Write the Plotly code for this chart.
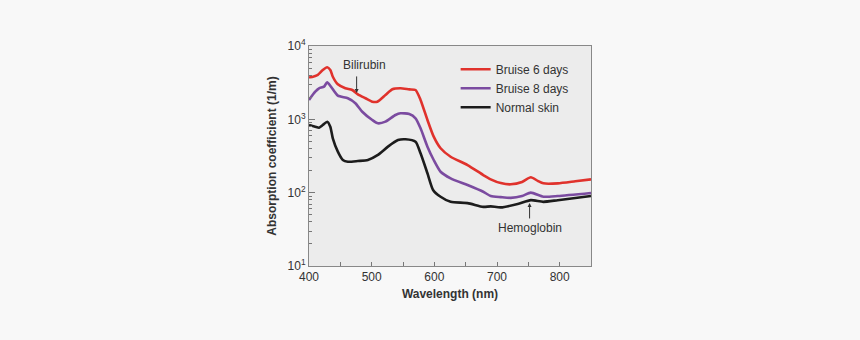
import plotly.graph_objects as go

# Bruise 6 days
wl_6 = [400, 402, 410, 414, 422, 429, 434, 438, 446, 458, 469, 478, 490, 501, 509, 522, 533,
        546, 560, 570, 578, 589, 599, 610, 626, 653, 678, 690, 706, 722, 740, 754, 765, 774, 797, 825, 850]
abs_6 = [3760, 3740, 3900, 4030, 4710, 5130, 4710, 3810, 3000, 2650, 2510, 2190, 1940, 1740, 1740,
         2150, 2570, 2650, 2560, 2510, 1840, 980, 580, 403, 309, 238, 174, 152, 135, 130, 140, 162,
         145, 134, 134, 143, 152]

# Bruise 8 days
wl_8 = [400, 410, 416, 424, 429, 435, 446, 462, 474, 485, 501, 510, 522, 538, 546, 560, 570, 578,
        589, 599, 610, 626, 653, 678, 690, 706, 722, 740, 754, 774, 797, 850]
abs_8 = [1840, 2380, 2650, 2790, 3200, 2790, 2100, 1940, 1660, 1270, 979, 883, 930, 1146, 1208,
         1180, 1033, 755, 424, 279, 193, 157, 127, 103, 90, 87, 85, 90, 100, 88, 90, 99]

# Normal skin
wl_n = [400, 410, 416, 422, 429, 434, 438, 446, 454, 462, 478, 494, 510, 526, 542, 554, 570, 578,
        589, 598, 610, 626, 653, 678, 690, 706, 733, 754, 774, 797, 850]
abs_n = [837, 794, 769, 837, 929, 794, 551, 362, 279, 264, 270, 279, 327, 424, 522, 535, 495, 344,
         184, 109, 88, 75, 72, 64, 65, 63, 70, 79, 75, 79, 90]

series_names = ["Bruise 6 days", "Bruise 8 days", "Normal skin"]
series_colors = ["#e0322c", "#7b4ba0", "#1c1c1c"]

y_tickvals = [10, 100, 1000, 10000]
y_ticktext = ["10<sup>1</sup>", "10<sup>2</sup>", "10<sup>3</sup>", "10<sup>4</sup>"]
y_minor = [v * m for v in [10, 100, 1000] for m in range(2, 10)]

FONT = "Liberation Sans, Arial, sans-serif"

fig = go.Figure()
for wl, ab, name, col in zip([wl_6, wl_8, wl_n], [abs_6, abs_8, abs_n], series_names, series_colors):
    fig.add_trace(go.Scatter(x=wl, y=ab, mode="lines", name=name,
                             line=dict(color=col, width=2.6, shape="spline", smoothing=0.6)))

fig.update_layout(
    width=860, height=340,
    margin=dict(l=309, r=269, t=46, b=74),
    paper_bgcolor="#f8f8f8", plot_bgcolor="#ececec",
    font=dict(family=FONT, size=12, color="#333"),
    legend=dict(x=0.52, y=0.96, xanchor="left", yanchor="top", bgcolor="rgba(0,0,0,0)",
                font=dict(size=12, color="#333"), tracegroupgap=0, itemwidth=30),
    showlegend=True,
)

fig.update_xaxes(range=[400, 850], dtick=100, tick0=400, ticks="inside", ticklen=4,
                 tickcolor="#777", showgrid=False, zeroline=False,
                 showline=True, linecolor="#888", linewidth=1, mirror=True,
                 minor=dict(dtick=50, tick0=400, ticks="inside", ticklen=4, tickcolor="#777", showgrid=False),
                 tickfont=dict(size=12, color="#333"),
                 title=dict(text="<b>Wavelength (nm)</b>", font=dict(size=12, color="#333"), standoff=6))

fig.update_yaxes(type="log", range=[1, 4], tickmode="array", tickvals=y_tickvals, ticktext=y_ticktext,
                 ticks="inside", ticklen=6, tickcolor="#777", showgrid=False, zeroline=False,
                 showline=True, linecolor="#888", linewidth=1, mirror=True,
                 minor=dict(tickvals=y_minor, ticks="inside", ticklen=3, tickcolor="#777", showgrid=False),
                 tickfont=dict(size=12, color="#333"),
                 title=dict(text="<b>Absorption coefficient (1/m)</b>", font=dict(size=12, color="#333"), standoff=8))

fig.add_annotation(x=476, y=3.36, xref="x", yref="y", ax=0, ay=-18, text="",
                   showarrow=True, arrowhead=2, arrowsize=0.8, arrowwidth=1, arrowcolor="#333")
fig.add_annotation(x=488, y=3.74, xref="x", yref="y", text="Bilirubin", showarrow=False,
                   font=dict(size=12, color="#333"))
fig.add_annotation(x=752, y=1.86, xref="x", yref="y", ax=0, ay=17, text="",
                   showarrow=True, arrowhead=2, arrowsize=0.8, arrowwidth=1, arrowcolor="#333")
fig.add_annotation(x=752, y=1.52, xref="x", yref="y", text="Hemoglobin", showarrow=False,
                   font=dict(size=12, color="#333"))

fig.write_html("out.html")
